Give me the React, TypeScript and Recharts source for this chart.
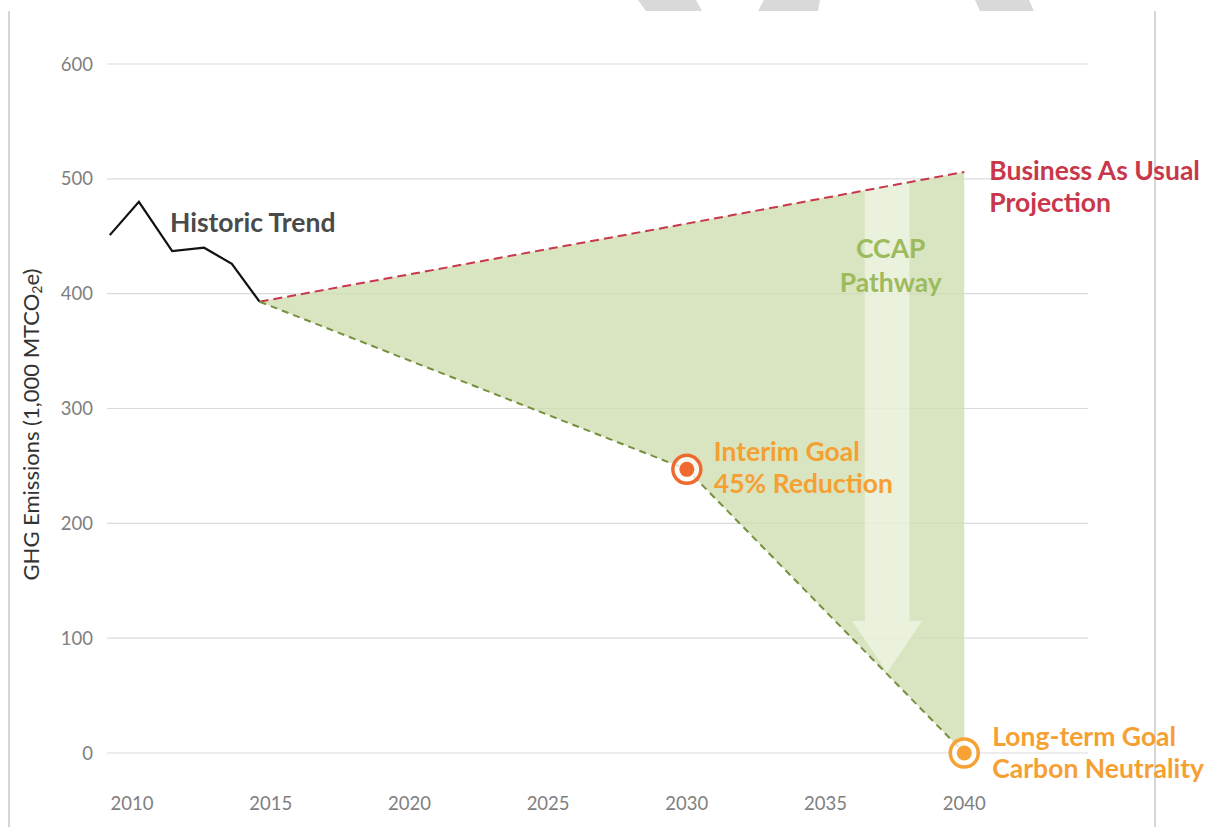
import { ComposedChart, Line, Area, XAxis, YAxis, CartesianGrid, ReferenceDot, ReferenceArea } from 'recharts';

// years on the axis and value gridlines
const yearTicks = [2010, 2015, 2020, 2025, 2030, 2035, 2040];
const valueTicks = [0, 100, 200, 300, 400, 500, 600];

// historic emissions
const historicYears = [2009.2, 2010.25, 2011.45, 2012.6, 2013.6, 2014.6];
const historicValues = [451, 480, 437, 440, 426, 393];

// projections from the last historic point
const projectionYears = [2014.6, 2030, 2040];
const bauValues = [393, 461, 506];
const pathwayValues = [393, 247, 0];

// goals
const goalYears = [2030, 2040];
const goalValues = [247, 0];

const FONT = "Lato, 'Open Sans', sans-serif";

const historic = historicYears.map((year, i) => ({ year, value: historicValues[i] }));
const bau = projectionYears.map((year, i) => ({ year, value: bauValues[i] }));
const pathway = projectionYears.map((year, i) => ({ year, value: pathwayValues[i] }));
const band = projectionYears.map((year, i) => ({ year, range: [pathwayValues[i], bauValues[i]] }));

function ring(color: string) {
  return (p: any) => (
    <g>
      <circle cx={p.cx} cy={p.cy} r={14} fill="#ffffff" fillOpacity={0.75} stroke={color} strokeWidth={3.5} />
      <circle cx={p.cx} cy={p.cy} r={7.5} fill={color} />
    </g>
  );
}

function note(lines: string[], color: string, dx: number, dy: number, anchor: string = 'start', gap = 32) {
  return (p: any) => (
    <text
      x={p.cx + dx}
      y={p.cy + dy}
      fill={color}
      fontFamily={FONT}
      fontWeight={700}
      fontSize={26.5}
      textAnchor={anchor}
      dominantBaseline="central"
    >
      {lines.map((t, i) => (
        <tspan key={t} x={p.cx + dx} dy={i === 0 ? 0 : gap}>
          {t}
        </tspan>
      ))}
    </text>
  );
}

function arrowShape(p: any) {
  const { x, y, width, height } = p;
  const cx = x + width / 2;
  const shaft = width * 0.64;
  const headH = height * 0.105;
  const pts = [
    [cx - shaft / 2, y],
    [cx + shaft / 2, y],
    [cx + shaft / 2, y + height - headH],
    [x + width, y + height - headH],
    [cx, y + height],
    [x, y + height - headH],
    [cx - shaft / 2, y + height - headH],
  ]
    .map((q) => q.join(','))
    .join(' ');
  return <polygon points={pts} fill="#ffffff" fillOpacity={0.45} />;
}

function yLabel(props: any) {
  const vb = props.viewBox;
  const x = vb.x - 17;
  const y = vb.y + vb.height / 2 + 16;
  return (
    <text
      x={x}
      y={y}
      transform={`rotate(-90, ${x}, ${y})`}
      textAnchor="middle"
      dominantBaseline="central"
      fill="#333333"
      fontFamily={FONT}
      fontSize={22}
    >
      GHG Emissions (1,000 MTCO
      <tspan fontSize={14} dy={6}>2</tspan>
      <tspan dy={-6}>e)</tspan>
    </text>
  );
}

export default function App() {
  return (
    <div style={{ position: 'absolute', left: 0, top: 0, width: 1211, height: 827, background: '#fff' }}>
      <svg width={1211} height={827} style={{ position: 'absolute', left: 0, top: 0 }}>
        <line x1={9} y1={11} x2={9} y2={827} stroke="#c8c8c8" strokeWidth={1.5} />
        <line x1={1155} y1={11} x2={1155} y2={827} stroke="#c8c8c8" strokeWidth={1.5} />
        <polygon points="638,0 696,0 702,11 646,11" fill="#d9d9d9" />
        <polygon points="764,0 820,0 818,11 758,11" fill="#d9d9d9" />
        <polygon points="975,0 1029,0 1034,11 980,11" fill="#d9d9d9" />
      </svg>
      <div style={{ position: 'absolute', left: 0, top: 0 }}>
        <ComposedChart width={1211} height={827} margin={{ top: 64, right: 123, bottom: 14, left: 47 }}>
          <CartesianGrid vertical={false} stroke="#dcdcdc" strokeWidth={1.2} />
          <XAxis
            type="number"
            dataKey="year"
            domain={[2009.1, 2044.46]}
            ticks={yearTicks}
            allowDataOverflow
            axisLine={false}
            tickLine={false}
            tickSize={0}
            tickMargin={44}
            height={60}
            tick={{ fill: '#7f7f7f', fontSize: 18.5, fontFamily: FONT }}
          />
          <YAxis
            type="number"
            domain={[0, 600]}
            ticks={valueTicks}
            axisLine={false}
            tickLine={false}
            tickSize={0}
            tickMargin={14}
            width={60}
            tick={{ fill: '#7f7f7f', fontSize: 18.5, fontFamily: FONT }}
            label={{ content: yLabel }}
          />
          <Area
            data={band}
            dataKey="range"
            type="linear"
            stroke="none"
            fill="#cfdfb0"
            fillOpacity={0.8}
            isAnimationActive={false}
          />
          <ReferenceArea x1={2035.96} x2={2038.48} y1={70} y2={499} shape={arrowShape} ifOverflow="visible" zIndex={150} />
          <Line
            data={historic}
            dataKey="value"
            type="linear"
            stroke="#111111"
            strokeWidth={2.2}
            dot={false}
            isAnimationActive={false}
          />
          <Line
            data={bau}
            dataKey="value"
            type="linear"
            stroke="#c8374a"
            strokeWidth={2}
            strokeDasharray="9 5"
            dot={false}
            isAnimationActive={false}
          />
          <Line
            data={pathway}
            dataKey="value"
            type="linear"
            stroke="#77903f"
            strokeWidth={2}
            strokeDasharray="7 5"
            dot={false}
            isAnimationActive={false}
          />
          <ReferenceDot x={goalYears[0]} y={goalValues[0]} r={14} ifOverflow="visible" shape={ring('#f06a30')} />
          <ReferenceDot x={goalYears[1]} y={goalValues[1]} r={14} ifOverflow="visible" shape={ring('#f7a234')} />
          <ReferenceDot x={2011.37} y={462} r={0} ifOverflow="visible" shape={note(['Historic Trend'], '#4a4a4a', 0, 0)} />
          <ReferenceDot
            x={projectionYears[2]}
            y={bauValues[2]}
            r={0}
            ifOverflow="visible"
            shape={note(['Business As Usual', 'Projection'], '#c8374a', 25, -2)}
          />
          <ReferenceDot
            x={2037.35}
            y={440}
            r={0}
            ifOverflow="visible"
            shape={note(['CCAP', 'Pathway'], '#9dbb5c', 0, 0, 'middle', 34)}
          />
          <ReferenceDot
            x={goalYears[0]}
            y={goalValues[0]}
            r={0}
            ifOverflow="visible"
            shape={note(['Interim Goal', '45% Reduction'], '#f5a033', 27, -18)}
          />
          <ReferenceDot
            x={goalYears[1]}
            y={goalValues[1]}
            r={0}
            ifOverflow="visible"
            shape={note(['Long-term Goal', 'Carbon Neutrality'], '#f5a033', 28, -17)}
          />
        </ComposedChart>
      </div>
    </div>
  );
}
